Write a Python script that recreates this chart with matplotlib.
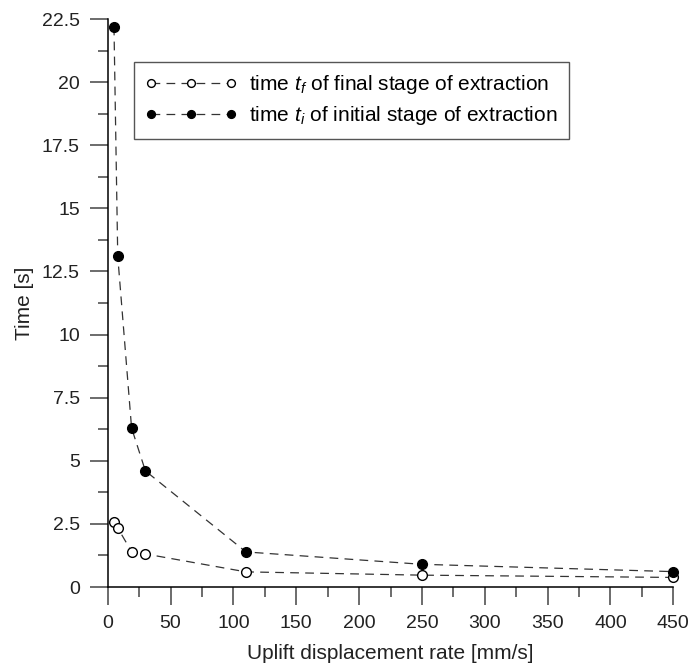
import matplotlib

matplotlib.use("Agg")
import matplotlib.pyplot as plt
from matplotlib.ticker import MultipleLocator

plt.rcParams["font.family"] = ["Liberation Sans", "DejaVu Sans"]
plt.rcParams["mathtext.fontset"] = "custom"
plt.rcParams["mathtext.rm"] = "Liberation Sans"
plt.rcParams["mathtext.it"] = "Liberation Sans:italic"

# uplift displacement rate [mm/s]
rate = [5, 8, 19, 30, 110, 250, 450]
# time of final stage of extraction t_f [s]
t_final = [2.58, 2.34, 1.40, 1.31, 0.60, 0.47, 0.38]
# time of initial stage of extraction t_i [s]
t_initial = [22.2, 13.1, 6.3, 4.6, 1.39, 0.90, 0.61]

x_ticks = list(range(0, 451, 50))
y_ticks = [0, 2.5, 5, 7.5, 10, 12.5, 15, 17.5, 20, 22.5]
y_labels = ["0", "2.5", "5", "7.5", "10", "12.5", "15", "17.5", "20", "22.5"]

fig = plt.figure(figsize=(6.93, 6.63), dpi=100)
ax = fig.add_axes([0.1554, 0.1146, 0.8162, 0.8567])

line_kw = dict(color="#333333", linewidth=0.9, linestyle=(0, (7, 5)),
               markersize=7, markeredgecolor="black", markeredgewidth=1.0,
               clip_on=False, zorder=3)
ax.plot(rate, t_final, marker="o", markerfacecolor="white",
        label="time $t_f$ of final stage of extraction", **line_kw)
ax.plot(rate, t_initial, marker="o", markerfacecolor="black",
        label="time $t_i$ of initial stage of extraction", **line_kw)

ax.set_xlim(0, 450)
ax.set_ylim(0, 22.5)
ax.set_xticks(x_ticks)
ax.xaxis.set_minor_locator(MultipleLocator(25))
ax.set_yticks(y_ticks)
ax.set_yticklabels(y_labels)
ax.yaxis.set_minor_locator(MultipleLocator(1.25))

for side in ("top", "right"):
    ax.spines[side].set_visible(False)
for side in ("left", "bottom"):
    ax.spines[side].set_linewidth(1.1)
    ax.spines[side].set_color("black")

ax.tick_params(which="major", direction="out", length=13, width=1.1,
               color="#444444", labelsize=14, pad=7, labelcolor="#222222")
ax.tick_params(which="minor", direction="out", length=7, width=1.1,
               color="#444444")

ax.set_xlabel("Uplift displacement rate [mm/s]", fontsize=15, color="#222222",
              labelpad=9)
ax.set_ylabel("Time [s]", fontsize=15, color="#222222", labelpad=6)

leg = ax.legend(loc="upper left", bbox_to_anchor=(0.046, 0.925),
                borderaxespad=0, fontsize=15, numpoints=3, markerscale=0.8,
                handlelength=4.4, handletextpad=0.6, labelspacing=0.4,
                fancybox=False, framealpha=1, edgecolor="#555555",
                borderpad=0.55)
leg.get_frame().set_linewidth(1.0)

fig.savefig("out.png", dpi=100, facecolor="white")
